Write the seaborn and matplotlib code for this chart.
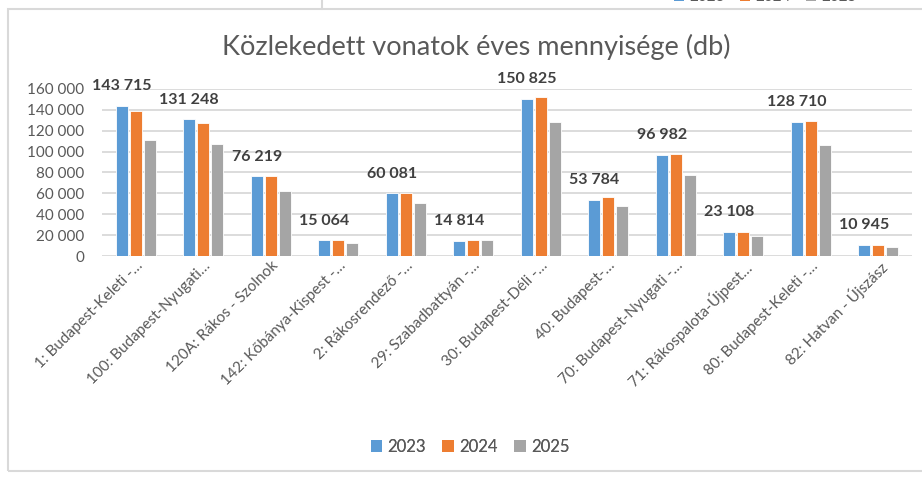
import matplotlib
matplotlib.use("Agg")
import matplotlib.pyplot as plt
from matplotlib.patches import Rectangle, Patch
from matplotlib.lines import Line2D
from matplotlib.ticker import FuncFormatter
import pandas as pd
import seaborn as sns

# data
routes = ["1: Budapest-Keleti -…", "100: Budapest-Nyugati…", "120A: Rákos - Szolnok",
          "142: Kőbánya-Kispest -…", "2: Rákosrendező -…", "29: Szabadbattyán -…",
          "30: Budapest-Déli -…", "40: Budapest-…", "70: Budapest-Nyugati -…",
          "71: Rákospalota-Újpest…", "80: Budapest-Keleti -…", "82: Hatvan - Újszász"]
years = ["2023", "2024", "2025"]
v2023 = [143715, 131248, 76219, 15064, 60081, 14814, 150825, 53784, 96982, 23108, 128710, 10945]
v2024 = [139000, 127600, 76500, 15000, 60200, 14900, 152000, 56300, 97800, 23100, 129300, 10900]
v2025 = [111300, 107500, 62100, 12900, 50900, 14900, 128300, 48000, 77200, 19200, 106200, 9000]
colors = ["#5B9BD5", "#ED7D31", "#A5A5A5"]

df = pd.DataFrame({
    "route": routes * 3,
    "year": [y for y in years for _ in routes],
    "value": v2023 + v2024 + v2025,
})

sns.set_style("white")
plt.rcParams["font.family"] = ["Lato", "DejaVu Sans"]
grey = "#595959"

fig = plt.figure(figsize=(9.22, 4.79), dpi=100)
ax = fig.add_axes([102 / 922, 1 - 256 / 479, 810 / 922, 167 / 479])

sns.barplot(data=df, x="route", y="value", hue="year", palette=colors, saturation=1,
            width=0.62, gap=0.12, edgecolor="white", linewidth=0.6,
            legend=False, ax=ax)

ax.set_ylim(0, 160000)
ax.set_yticks(range(0, 160001, 20000))
ax.yaxis.set_major_formatter(FuncFormatter(lambda v, p: f"{int(v):,}".replace(",", " ")))
ax.grid(axis="y", color="#D9D9D9", linewidth=1.3)
ax.set_axisbelow(True)
for s in ax.spines.values():
    s.set_visible(False)
ax.set_xlabel("")
ax.set_ylabel("")
ax.tick_params(length=0, labelsize=11, colors=grey)
ax.tick_params(axis="y", pad=13)
ax.tick_params(axis="x", pad=2)
ax.set_xlim(-0.5, len(routes) - 0.5)
plt.setp(ax.get_xticklabels(), rotation=45, ha="right", rotation_mode="anchor")

# data labels on the 2023 bars
for bar, val in zip(ax.containers[0], v2023):
    ax.annotate(f"{val:,}".replace(",", " "),
                (bar.get_x() + bar.get_width() / 2, bar.get_height()),
                xytext=(0, 9), textcoords="offset points", ha="center", va="bottom",
                fontsize=11.5, fontweight="bold", color="#404040")

fig.text(476 / 922, 1 - 47 / 479, "Közlekedett vonatok éves mennyisége (db)",
         ha="center", va="center", fontsize=19.5, color=grey)

handles = [Patch(facecolor=c, edgecolor="none") for c in colors]
leg = fig.legend(handles, years, loc="center", bbox_to_anchor=(470 / 922, 1 - 447 / 479),
                 ncol=3, frameon=False, fontsize=12, handlelength=0.7, handleheight=0.7,
                 handletextpad=0.3, columnspacing=1.0, labelcolor=grey)

# chart frame and the bit of the neighbouring chart above it
fig.add_artist(Rectangle((8 / 922, 1 - 471 / 479), 930 / 922, 462 / 479,
                         transform=fig.transFigure, fill=False, edgecolor="#D9D9D9", linewidth=1.5))
fig.add_artist(Line2D([322 / 922, 322 / 922], [1, 1 - 9 / 479], transform=fig.transFigure,
                      color="#D9D9D9", linewidth=1.5))
fig.add_artist(leg)
fig.legend(handles, years, loc="lower center", bbox_to_anchor=(765 / 922, 1 - 10 / 479),
           ncol=3, frameon=False, fontsize=11, handlelength=0.7, handleheight=0.7,
           handletextpad=0.3, columnspacing=1.0, labelcolor=grey, borderaxespad=0)

fig.savefig("out.png", dpi=100)
